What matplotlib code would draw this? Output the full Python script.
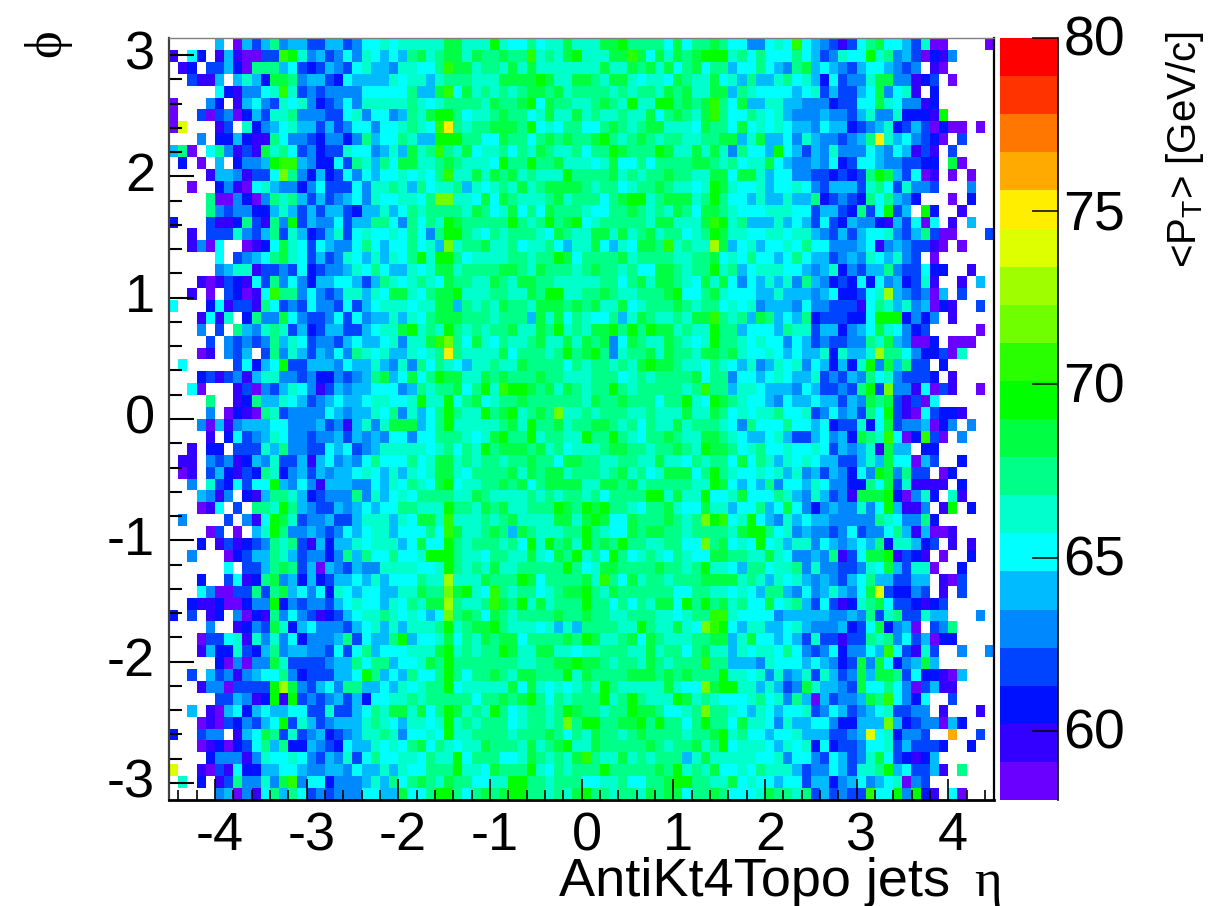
import numpy as np
import matplotlib
matplotlib.use("Agg")
import matplotlib.pyplot as plt
from matplotlib.colors import ListedColormap, BoundaryNorm
from matplotlib.transforms import ScaledTranslation

plt.rcParams['font.family'] = ['Liberation Sans', 'DejaVu Sans']
plt.rcParams['mathtext.fontset'] = 'custom'
plt.rcParams['mathtext.rm'] = 'Liberation Sans'
plt.rcParams['axes.unicode_minus'] = False

# one character per cell = palette level, '.' = empty bin
# top row first, split in three blocks of 30 bins each
eta_neg = [
".....5.05358455335534667677777", "1.62.1510033ba7453464765658978", ".12.33520888563235436755477668",
"..3115.5752998455326 5555767757", ".....6214467b73434444666668559", "0...42.15643767423464777778767",
"0..30340253778444336746645879a", "0e...13.724567553534664667876b", "...4.225211864432442485668755a",
"580.6841319786342337664575978b", ".2.0.5.2445abb5422638758699778", "....15541336c84252364656676768",
"..0..24106754424633364 77875867", "....8004204878535345647667768c", "....8434422575353553 2557568788",
"2...311283184a3544635588648687", "..1.33374358375235736766768648", "..1406..0126976365446865668675",
".....6.34568976353476575768a7a", ".....45771334362344 57686557679", "...101321638464255665358767876",
"..1.0.32016b88464347757699 7689", "6...26133186343644363567776779", "...1617.2844964334636455757689",
"...4.3.8547873523553356779a787", "....3.43434857634435655674779b", "...01.435.38475354648767557678",
".6.....36256a33555465575474868", "...23134157744342243458956968a", "..60...13043576413545566645878",
"....8..12855765345655677667a77", "....4.02108734444654 5576847568", "...40514555664445341 5747999568",
"....1.26345764434453 5454664668", "..1.22.33375844336563457777767", ".11.43412547335156454686668679",
".01.35213287245354556765757679", "..4.7326366a546415554465768769", "...5414.2158875234448475676888",
"...016.3.887a85433545656688777", ".4....3.416a973445335777576997", "....03.0.57a844543465677566686",
"...2.131234878315255 7677756966", "..4...0235587534424858668667aa", "......6.3358983505435447777667",
"...2..36128945252355 6575666877", "...64003383895646276 5665577988", "..211200244a243443567665768799",
"2.3.12.4021846431235 6778767656", "....4..1243972564443 5675757778", "...0336717474624445836558a5667",
"...15227325845544363 6856667779", ".....204044973333455 8688566798", "..3.5341456684233355 6a85658668",
"...14403333ad94356488556576788", ".....335412a1a3434535266778788", "..5.1056256556633733 5687997968",
"...010324356a37534555787657767", "2..344.1569837345234 5778746676", "...01202368582254326 5576768968",
"....2444147667643547 3686677687", "e..10316225566544554 6557576688", ".7.2.13844749b4662444575868987",
".....450416858634344466559668a",
]
eta_neg = [r.replace(" ", "") for r in eta_neg]

eta_mid = [
"99777a7668677977799a8888696889", "997988988b7879a77799b9697989aa", "b99788797977777779779897968968",
"8887779999a9779987997677698779", "b69787878998978888787887989779", "888879889a6988778987a77aa8989b",
"a8677898867977978778779689879b", "f87889998a67688668987899777698", "aa886698868989889a878987887788",
"879677868798778688a9888a977979", "987776a88a88977767966868888998", "b779798978777a8888978788988779",
"7857678797899998788 6788987767a", "c7769698777897888689aa7899978a", "887986796869888766889878798699",
"a988888a878a89a67888887997779b", "aa876878887698779979789788678a", "c78897786778657796576998b7877d",
"a86777788788a96888897888877889", "97888899879888789887866998788a", "98877987998877777886 8979987697",
"9a777887798aa778898778889a6689", "95878798879998989779 6788898788", "99888788859796876685798778799b",
"a87878897798a78799a8a8a997877a", "c8697687789779798946987798767a", "f87777968887 8a89a8478897988799",
"7657787798888687887879a9987768", "997798988898877788867878888968", "8968a7baa989798788a878888878b8",
"a6896788988888879889888688a76a", "a877a89a7898c77878887787779779", "a77777897a88978899878687797888",
"887679a88a78877a88a87688987799", "8687a89998978677789988788987a9", "978788788988699887788779776878",
"97688889798997888789786799968a", "a67788989689999779989788888 77a", "877987777878788786888 8aa7977a6",
"a88798977888a98a9a887688976697", "b77787897777 9979a96698889878ca", "b97789859877788a87669899887888",
"a87888786a7a897a898a88778866c8", "a8776887797698a786a86787687669", "a878797788888a86799888898878a7",
"d7779888a96888897b869788788899", "c9a76b878867899a87988888866887", "d8778b98a797888a8868687996a8a8",
"c8986987888898898877888776788b", "a7899a877767575888877a877976cb", "968798996888898a97789698777889",
"a78788a97799776778887797886897", "a8888888778899a9987887987888b8", "a868898799888a7988889998989888",
"a6777779697676787a8777779766c9", "888688989a8687888a78a8777a9787", "a9787a8678878a988788a9986678c8",
"a787888678878c8aa8899a8a8868a8", "a77888878889868798878988887889", "7677988879789a7798888898788978",
"7a6888667987879b87797878885797", "8a7769888a7687888a8888898a7879", "9886677aa8878886677866889aa887",
"a868989aa887879a88788798996889",
]
eta_mid = [r.replace(" ", "") for r in eta_mid]

eta_pos = [
"86644676b6543136896653700....0", "a786866686534766a784530214....", "8566865489565435665434.10.....",
"675855786752634479944123.0....", "9587666656735335694671.2......", "86955775544423366976 4412......",
"866876754445443574472221a.....", "869676765546552345723530200.0.", "99579556475443458f7564320.3...",
"748665a65354744465465131.3....", "786779654454623665443322.90...", "96997566443323238a953601.0.0..",
"976675667643555378637443...4..", "8665755755823432868542...0.2..", "876667776635532836a35.a2..1...",
"a7855575653632544215 3606.1.5..", "97766776775435356674358300...3", "9567566768664445614543310.0...",
"6768665686553454765743.0......", "7856777665457243558433622..1..", "96465757485423262645 2371..1.5.",
"766655755545622367d543405.3...", "676745554644333168757 45021..3.", "87859856582333226aaa2424.1....",
"88566658773552456976 423.....0.", "88767664653433448795 4002.000..", "89766765655727557d886422307...",
"7657457674652527a495833.2.....", "84665676557343548674 3332.1....", "8577655546533438a3c4416031..0.",
"98766546556553549893 1306......", "867677866734645386a31063221...", "76486668665623372693445024.4..",
"876556753356452987b602b30.4...", "986786676676354571955.22......", "869687576765533575966053..2...",
"87667675745354264a94833.02....", "9656584665764422869371111.2...", "679666875475341999a20472.71...",
"756685696424544746a5114.1a.2..", "b67a65475655444448764482......", "879aa86745443463446 8515001....",
"9676a675774654565827 7523.1.1..", "988779764454813699a1321.0..2..", "765886778474433476953770..2...",
"99787576754543568553355.103...", "76765885464575469e32243.1.3...", "9786696785363127896332123.....",
"b76666455555445483783 3755...4.", "a657755675444523692450.348....", "95796656537331338784635022....",
"757677686434624465b63173..4..4", "85554766656542394962 4595......", "a7767474573753495998 3622105...",
"aa775753497554396686403511....", "666786748505344598b6426..3....", "87657656673465345673344.1...1.",
"869776475566422555c52344052...", "a786656675553345e672443..g..3.", "a67776576726233466 7353332..2..",
"77776674664365347963 2125......", "667687775344653778a563351.8...", "79676656635524564567043.......",
"8666798878353433b66a4a21.60...",
]
eta_pos = [r.replace(" ", "") for r in eta_pos]

level_codes = "0123456789abcdefghij"
pt_min = 58.0
pt_max = 80.0
n_levels = 20
palette = ["#6a00ff", "#3300ff", "#0011ff", "#0044ff", "#0088ff", "#00bbff", "#00ffff",
           "#00ffcc", "#00ff88", "#00ff44", "#00ff00", "#2aff00", "#6fff00", "#9fff00",
           "#ddff00", "#ffee00", "#ffaa00", "#ff7700", "#ff3300", "#ff0000"]
eta_ticks = [-4, -3, -2, -1, 0, 1, 2, 3, 4]
phi_ticks = [-3, -2, -1, 0, 1, 2, 3]
pt_ticks = [60, 65, 70, 75, 80]

levels = np.linspace(pt_min, pt_max, n_levels + 1)


def row_values(a, b, c):
    txt = a.ljust(30, ".")[:30] + b.ljust(30, "8")[:30] + c.ljust(30, ".")[:30]
    out = []
    for ch in txt:
        if ch == ".":
            out.append(np.nan)
        else:
            out.append(levels[level_codes.index(ch)] + 0.55)
    return out


mean_pt = np.array([row_values(a, b, c) for a, b, c in zip(eta_neg, eta_mid, eta_pos)])[::-1]

eta_edges = np.linspace(-4.5, 4.5, 91)
phi_edges = np.linspace(-np.pi, np.pi, 65)

W, H = 1228, 906
fig = plt.figure(figsize=(W / 100, H / 100), dpi=100)
ax = fig.add_axes([169 / W, 1 - 800 / H, 825 / W, 762 / H])
cax = fig.add_axes([1000 / W, 1 - 800 / H, 58 / W, 762 / H])

cmap = ListedColormap(palette)
norm = BoundaryNorm(levels, cmap.N)
mesh = ax.pcolormesh(eta_edges, phi_edges, np.ma.masked_invalid(mean_pt), cmap=cmap, norm=norm)

ax.set_xlim(-4.5, 4.5)
ax.set_ylim(-np.pi, np.pi)
ax.set_xticks(eta_ticks)
ax.set_yticks(phi_ticks)
ax.set_xticks(np.arange(-4.4, 4.5, 0.2), minor=True)
ax.set_yticks(np.arange(-3.0, 3.2, 0.2), minor=True)
ax.tick_params(axis="x", which="major", direction="in", length=15, width=1.2, labelsize=39, pad=8)
ax.tick_params(axis="x", which="minor", direction="in", length=7.5, width=1.2)
ax.tick_params(axis="y", which="major", direction="in", length=18, width=1.5, labelsize=39, pad=10)
ax.tick_params(axis="y", which="minor", direction="in", length=9, width=1.5)
ax.spines["top"].set_color("#808080")
ax.spines["top"].set_linewidth(1)
ax.spines["left"].set_color("#404040")
ax.spines["left"].set_linewidth(1.6)
ax.spines["bottom"].set_linewidth(2)
ax.spines["right"].set_linewidth(1.6)

# the labels sit a little off their ticks in the original
for lab in ax.get_xticklabels():
    lab.set_transform(lab.get_transform() + ScaledTranslation(5 / 100, 0, fig.dpi_scale_trans))
for lab in ax.get_yticklabels():
    lab.set_transform(lab.get_transform() + ScaledTranslation(0, 5 / 100, fig.dpi_scale_trans))

cb = fig.colorbar(mesh, cax=cax, ticks=pt_ticks, spacing="proportional")
cb.minorticks_off()
cb.outline.set_visible(False)
cax.spines["right"].set_visible(True)
cax.spines["right"].set_linewidth(1.2)
cax.tick_params(axis="y", direction="in", length=18.5, width=1.1, labelsize=40, pad=4)
for lab in cax.get_yticklabels():
    lab.set_transform(lab.get_transform() + ScaledTranslation(0, 2 / 100, fig.dpi_scale_trans))

fig.text(950 / W, 1 - 896 / H, "AntiKt4Topo jets", fontsize=39, ha="right", va="baseline")
fig.text(974 / W, 1 - 896 / H, "η", fontsize=38, ha="left", va="baseline", family=["Liberation Serif", "DejaVu Serif"])
fig.text(47 / W, 1 - 43 / H, "ϕ", fontsize=38, rotation=90, ha="center", va="center",
         family=["Liberation Serif", "DejaVu Serif"])
fig.text(1185 / W, 1 - 149 / H, r"<P$_{\mathrm{T}}$> [GeV/c]", fontsize=29, rotation=90, ha="center", va="center")

fig.savefig("out.png", dpi=100)
